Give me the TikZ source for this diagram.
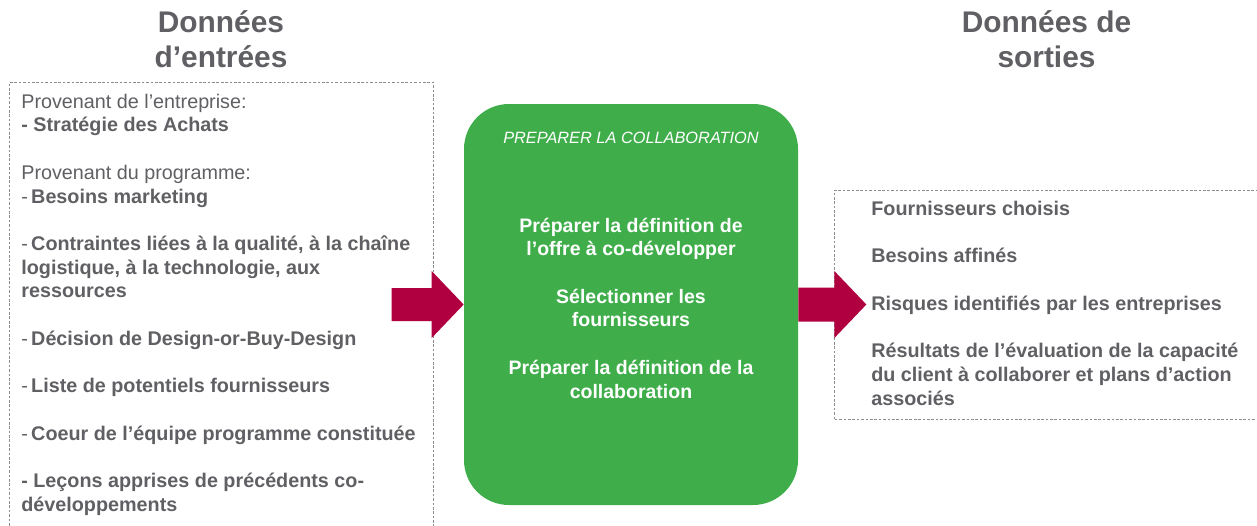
\documentclass[tikz,border=0pt]{standalone}
\usepackage{fontspec}
\setmainfont{Liberation Sans}
\usetikzlibrary{positioning,calc}
\definecolor{leafgreen}{RGB}{63,174,74}
\definecolor{claret}{RGB}{176,0,64}
\definecolor{slate}{RGB}{96,96,100}
\definecolor{dashgrey}{RGB}{140,140,140}
\newcommand{\gap}{\\[13.5pt]}
\newcommand{\dashb}[1]{-\,\textbf{#1}}

\begin{document}
\begin{tikzpicture}[
  title/.style={font=\fontsize{17}{19.8}\selectfont\bfseries,text=slate,align=center},
  listbox/.style={rectangle,draw=dashgrey,line width=0.5pt,dash pattern=on 1.5pt off 1pt},
  listtext/.style={font=\fontsize{11.25}{13.5}\selectfont,text=slate,align=left,
    inner sep=0pt,anchor=base west},
  task/.style={rectangle,rounded corners=0.9cm,fill=leafgreen,
    minimum width=6.68cm,minimum height=8.02cm},
  flow/.style={fill=claret}
]
\useasboundingbox (0,0) rectangle (25.14,-10.5);
% titles
\node[title] (intitle) at (4.42,-0.79) {Données\\d’entrées};
\node[title] (outtitle) at (20.93,-0.79) {Données de\\sorties};
% boxes
\node[listbox,anchor=north west,minimum width=8.48cm,minimum height=9.2cm] (inbox) at (0.18,-1.64) {};
\node[task] (proc) at (12.62,-6.09) {};
\node[listbox,right=0.72cm of proc,minimum width=8.8cm,minimum height=4.58cm,anchor=west] (outbox) {};
% texts (anchored at the last line)
\node[listtext] (intext) at (0.42,-10.23) {Provenant de l’entreprise:\\
  \textbf{- Stratégie des Achats}\gap
  Provenant du programme:\\
  \dashb{Besoins marketing}\gap
  \dashb{Contraintes liées à la qualité, à la chaîne}\\
  \textbf{logistique, à la technologie, aux}\\
  \textbf{ressources}\gap
  \dashb{Décision de Design-or-Buy-Design}\gap
  \dashb{Liste de potentiels fournisseurs}\gap
  \dashb{Coeur de l’équipe programme constituée}\gap
  \textbf{- Leçons apprises de précédents co-}\\
  \textbf{développements}};
\node[listtext,font=\fontsize{11.25}{13.5}\selectfont\bfseries] (outtext) at (17.42,-8.1) {Fournisseurs choisis\gap
  Besoins affinés\gap
  Risques identifiés par les entreprises\gap
  Résultats de l’évaluation de la capacité\\
  du client à collaborer et plans d’action\\
  associés};
\node[font=\fontsize{9.3}{11}\selectfont\itshape,text=white] (phase) at ([yshift=-0.68cm]proc.north) {PREPARER LA COLLABORATION};
\node[font=\fontsize{11.1}{13.5}\selectfont\bfseries,text=white,align=center] (steps) at ([yshift=-0.07cm]proc.center) {Préparer la définition de\\
  l’offre à co-développer\gap
  Sélectionner les\\
  fournisseurs\gap
  Préparer la définition de la\\
  collaboration};
% block arrows
\fill[flow] (proc.west) -- ++(-0.64,0.67) -- ++(0,-0.34) -- ++(-0.8,0) -- ++(0,-0.66)
  -- ++(0.8,0) -- ++(0,-0.34) -- cycle;
\fill[flow] ($(outbox.west)+(0.64,0)$) -- ++(-0.64,0.67) -- ++(0,-0.33)
  -- ($(proc.east |- outbox.west)+(0,0.34)$) -- ++(0,-0.68)
  -- ($(outbox.west)+(0,-0.34)$) -- ++(0,-0.33) -- cycle;
\end{tikzpicture}
\end{document}
